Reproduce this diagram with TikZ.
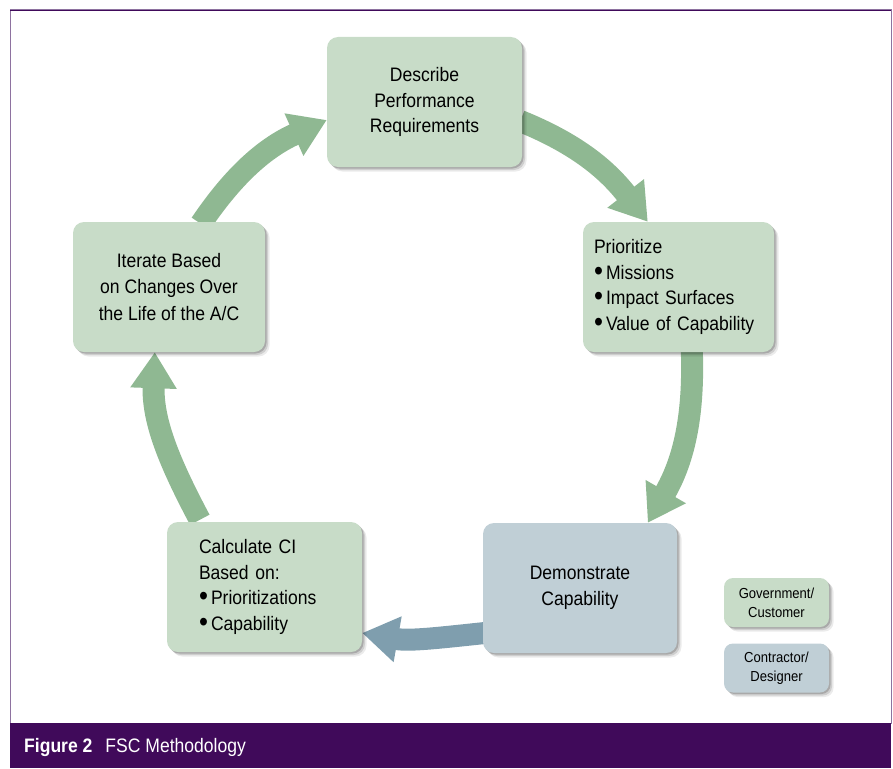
\documentclass[tikz,border=0pt]{standalone}
\usepackage{fontspec}
\setmainfont{Liberation Sans}[FakeStretch=0.9]
\usetikzlibrary{arrows.meta,shadows,calc}
\definecolor{boxgreen}{HTML}{C8DCC8}
\definecolor{boxblue}{HTML}{C0CFD6}
\definecolor{arrgreen}{HTML}{8FB892}
\definecolor{arrblue}{HTML}{7F9EAE}
\definecolor{framepurple}{HTML}{400A5A}
\definecolor{framelight}{HTML}{8E72A0}
\newcommand{\bul}{\makebox[12pt][l]{\raisebox{-0.1ex}{\scalebox{1.45}{\textbullet}}}}
\pgfdeclarelayer{background}
\pgfsetlayers{background,main}
\tikzset{
  softshadow/.style={
    general shadow={fill=black,opacity=0.08,shadow xshift=4.5pt,shadow yshift=-4.5pt},
    general shadow={fill=black,opacity=0.12,shadow xshift=3pt,shadow yshift=-3pt},
    general shadow={fill=black,opacity=0.18,shadow xshift=1.5pt,shadow yshift=-1.5pt}},
  stepbox/.style={softshadow, rounded corners=11pt, inner sep=0pt,
    minimum height=130pt, font=\fontsize{19.5}{25.5}\selectfont},
  greenbox/.style={stepbox, fill=boxgreen},
  bluebox/.style={stepbox, fill=boxblue},
  legendbox/.style={softshadow, rounded corners=9pt, inner sep=0pt,
    minimum width=105pt, minimum height=49pt, align=center,
    font=\fontsize{14.5}{19}\selectfont},
  bigarrow/.style={line width=22pt, -{Triangle[width=44pt,length=36pt]}},
}
\begin{document}
\begin{tikzpicture}[x=1pt,y=1pt]
\useasboundingbox (0,0) rectangle (893,-768);
% frame and caption band
\draw[framelight, line width=1pt] (10,-10) rectangle (891,-723);
\draw[framepurple, line width=0.6pt] (10,-10) -- (891,-10);
\fill[framepurple] (10,-723) rectangle (891,-768);
\node[anchor=west, text=white, inner sep=0pt, font=\fontsize{19.5}{21}\selectfont] (cap) at (24,-747)
  {\textbf{Figure 2}\hspace{13pt}FSC Methodology};

% boxes
\node[greenbox, minimum width=195pt, align=center] (desc) at (424.5,-102)
  {Describe\\Performance\\Requirements};
\node[greenbox, text width=169pt, inner xsep=11pt, align=left] (prio) at (678.5,-287)
  {Prioritize\\\bul Missions\\\bul Impact Surfaces\\\bul Value of Capability};
\node[bluebox, minimum width=194pt, align=center] (demo) at (580,-588)
  {Demonstrate\\Capability};
\node[greenbox, text width=131pt, inner xsep=32pt, align=left] (calc) at (264.5,-587)
  {Calculate CI\\Based on:\\\bul Prioritizations\\\bul Capability};
\node[greenbox, minimum width=192pt, align=center, font=\fontsize{19.5}{26.5}\selectfont] (iter) at (169,-287)
  {Iterate Based\\on Changes Over\\the Life of the A/C};

% legend
\node[legendbox, fill=boxgreen] (gov) at (776.5,-602.5) {Government/\\Customer};
\node[legendbox, fill=boxblue] (con) at (776.5,-668) {Contractor/\\Designer};

% arrows
\begin{pgfonlayer}{background}
\draw[bigarrow, arrgreen] ($(iter.north west)+(128,-2)$) to[out=56,in=204] ($(desc.west)+(0,-18)$);
\draw[bigarrow, arrgreen] ($(desc.east)+(-2,-19)$) to[out=-22,in=128] ($(prio.north west)+(65,0)$);
\draw[bigarrow, arrgreen] ($(prio.south west)+(109,2)$) to[out=-88,in=60] ($(demo.north west)+(165,0)$);
\draw[bigarrow, arrblue] ($(demo.west)+(2,-45)$) to[out=186,in=-10] ($(calc.east)+(0,-46)$);
\draw[bigarrow, arrgreen] ($(calc.north west)+(33,2)$) to[out=118,in=-92] ($(iter.south west)+(82,0)$);
\end{pgfonlayer}
\end{tikzpicture}
\end{document}
